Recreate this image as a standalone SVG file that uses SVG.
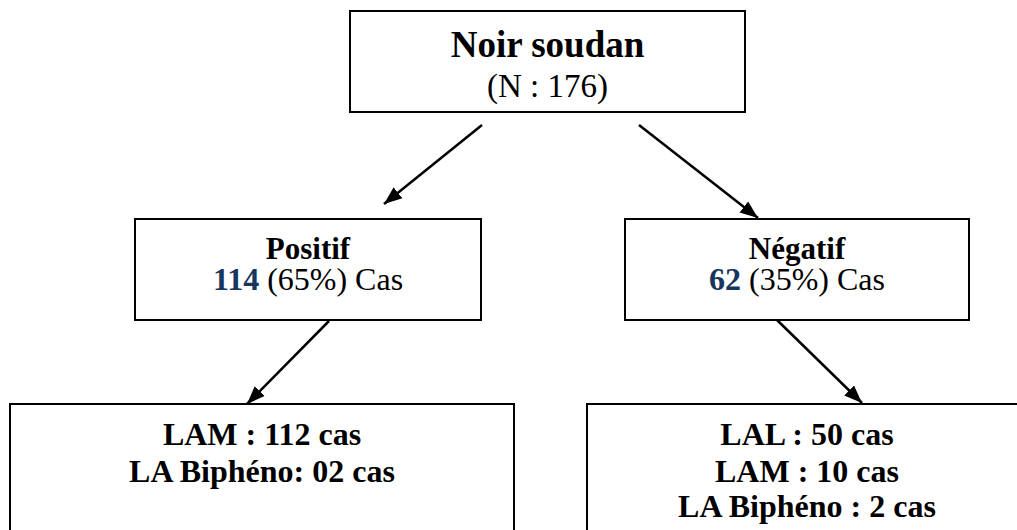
<svg xmlns="http://www.w3.org/2000/svg" width="1017" height="530" viewBox="0 0 1017 530">
  <style>
    .box { fill: #ffffff; stroke: #000000; stroke-width: 2; }
    .t { font-family: "Liberation Serif", "Times New Roman", serif; fill: #000000; text-anchor: middle; }
    .b { font-weight: bold; }
    .num { fill: #17365D; font-weight: bold; }
    .edge { stroke: #000000; stroke-width: 2.5; fill: none; marker-end: url(#arrow); }
  </style>
  <defs>
    <marker id="arrow" markerUnits="userSpaceOnUse" markerWidth="20" markerHeight="16" refX="18" refY="8" orient="auto">
      <path d="M0,1 L18,8 L0,15 Z" fill="#000000"/>
    </marker>
  </defs>
  <rect width="1017" height="530" fill="#ffffff"/>

  <g id="connectors">
    <line class="edge" x1="482" y1="125" x2="384" y2="204"/>
    <line class="edge" x1="639" y1="125" x2="758" y2="218"/>
    <line class="edge" x1="329" y1="321" x2="247" y2="404"/>
    <line class="edge" x1="777" y1="320" x2="862" y2="403"/>
  </g>

  <g id="noir-soudan">
    <rect class="box" x="350" y="11" width="395" height="101"/>
    <text class="t b" x="547.5" y="57" font-size="37">Noir soudan</text>
    <text class="t" x="547.5" y="97" font-size="33">(N : 176)</text>
  </g>

  <g id="positif">
    <rect class="box" x="135" y="219" width="346" height="101"/>
    <text class="t b" x="308" y="259" font-size="31">Positif</text>
    <text class="t" x="308" y="290" font-size="32"><tspan class="num">114</tspan> (65%) Cas</text>
  </g>

  <g id="negatif">
    <rect class="box" x="625" y="219" width="344" height="101"/>
    <text class="t b" x="797" y="259" font-size="31">Négatif</text>
    <text class="t" x="797" y="290" font-size="32"><tspan class="num">62</tspan> (35%) Cas</text>
  </g>

  <g id="resultats-positif">
    <rect class="box" x="10" y="404" width="504" height="140"/>
    <text class="t b" x="262" y="445" font-size="32">LAM : 112 cas</text>
    <text class="t b" x="262" y="482" font-size="32">LA Biphéno: 02 cas</text>
  </g>

  <g id="resultats-negatif">
    <rect class="box" x="587" y="404" width="440" height="140"/>
    <text class="t b" x="807" y="445" font-size="32">LAL : 50 cas</text>
    <text class="t b" x="807" y="482" font-size="32">LAM : 10 cas</text>
    <text class="t b" x="807" y="517" font-size="32">LA Biphéno : 2 cas</text>
  </g>
</svg>
